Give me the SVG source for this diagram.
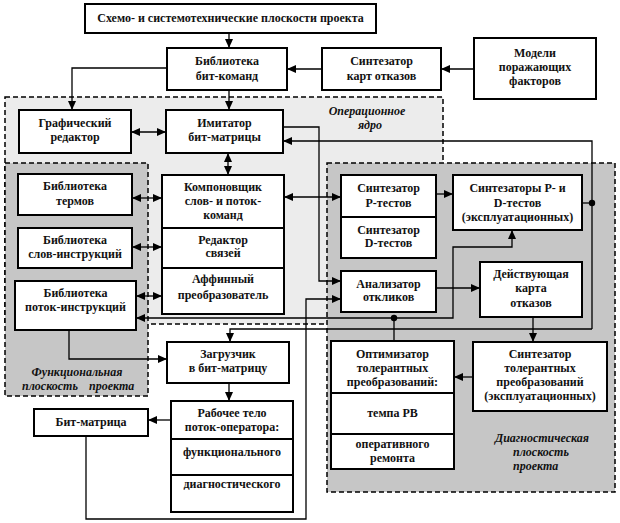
<svg xmlns="http://www.w3.org/2000/svg" width="620" height="523" viewBox="0 0 620 523">
<style>
.box{fill:#fff;stroke:#000;stroke-width:2}
.div{stroke:#000;stroke-width:2}
.reg{stroke:#000;stroke-width:1.5;stroke-dasharray:5,3}
.t{font-family:"Liberation Serif","Times New Roman",serif;font-weight:bold;font-size:12px;text-anchor:middle;fill:#111}
.it{font-family:"Liberation Serif","Times New Roman",serif;font-weight:bold;font-style:italic;font-size:12px;fill:#111}
.c{fill:none;stroke:#000;stroke-width:1.3}
.a{marker-end:url(#ah)}
.d{marker-start:url(#ah);marker-end:url(#ah)}
</style>
<defs>
<marker id="ah" markerUnits="userSpaceOnUse" markerWidth="9" markerHeight="8" refX="9" refY="4" orient="auto-start-reverse"><path d="M0,0 L9,4 L0,8 z" fill="#000"/></marker>
</defs>
<rect width="620" height="523" fill="#fff"/>
<g id="regions">
<rect x="5" y="97" width="438" height="227" fill="#ececec" class="reg"/>
<rect x="5" y="163" width="143" height="233" fill="#c6c6c6" class="reg"/>
<rect x="327" y="163" width="288" height="329" fill="#c6c6c6" class="reg"/>
<text class="it" x="367" y="115" text-anchor="middle">Операционное</text>
<text class="it" x="370" y="129" text-anchor="middle">ядро</text>
<text class="it" x="77" y="376" text-anchor="middle">Функциональная</text>
<text class="it" x="22" y="390">плоскость</text>
<text class="it" x="89" y="390">проекта</text>
<text class="it" x="495" y="442">Диагностическая</text>
<text class="it" x="513" y="456">плоскость</text>
<text class="it" x="513" y="470">проекта</text>
</g>
<g id="connectors">
<path class="c a" d="M229,33 V48"/>
<path class="c a" d="M322,69 H287"/>
<path class="c a" d="M474,69 H441"/>
<path class="c a" d="M167,68 H72 V110"/>
<path class="c a" d="M229,90 V110"/>
<path class="c d" d="M131,132 H166"/>
<path class="c d" d="M228,153 V175"/>
<path class="c d" d="M132,198 H162"/>
<path class="c d" d="M132,247 H162"/>
<path class="c d" d="M136,296 H162"/>
<path class="c d" d="M284,197 H341"/>
<path class="c a" d="M283,127 H319 V281 H341"/>
<path class="c" d="M582,203 H592"/>
<path class="c a" d="M592,329 V141 H283"/>
<path class="c a" d="M592,329 H230 V342"/>
<circle cx="592" cy="203" r="3.2" fill="#000"/>
<path class="c a" d="M436,194 H453"/>
<path class="c a" d="M436,288 H480"/>
<path class="c a" d="M533,317 V342"/>
<path class="c a" d="M473,377 H454"/>
<path class="c" d="M394,341 V318"/>
<path class="c a" d="M394,318 H136"/>
<path class="c a" d="M394,318 H453 V247 H512 V230"/>
<circle cx="394" cy="318" r="3.2" fill="#000"/>
<path class="c a" d="M69,330 V359 H167"/>
<path class="c a" d="M229,383 V401"/>
<path class="c a" d="M171,420 H148"/>
<path class="c a" d="M86,436 V519 H306 V299 H341"/>
</g>
<g id="n_scheme"><rect class="box" x="85" y="4" width="291" height="29"/><text class="t" x="230.5" y="22">Схемо- и системотехнические плоскости проекта</text></g>
<g id="n_bitlib"><rect class="box" x="167" y="48" width="120" height="42"/><text class="t" x="227" y="65">Библиотека</text><text class="t" x="227" y="80">бит-команд</text></g>
<g id="n_mapsynth"><rect class="box" x="322" y="48" width="119" height="42"/><text class="t" x="381.5" y="65">Синтезатор</text><text class="t" x="381.5" y="80">карт отказов</text></g>
<g id="n_models"><rect class="box" x="474" y="38" width="122" height="61"/><text class="t" x="535" y="57">Модели</text><text class="t" x="535" y="71">поражающих</text><text class="t" x="535" y="85">факторов</text></g>
<g id="n_graph"><rect class="box" x="19" y="110" width="112" height="43"/><text class="t" x="75" y="127">Графический</text><text class="t" x="75" y="141">редактор</text></g>
<g id="n_imit"><rect class="box" x="166" y="110" width="117" height="43"/><text class="t" x="224.5" y="127">Имитатор</text><text class="t" x="224.5" y="141">бит-матрицы</text></g>
<g id="n_termlib"><rect class="box" x="18" y="174" width="114" height="41"/><text class="t" x="75" y="190">Библиотека</text><text class="t" x="75" y="205">термов</text></g>
<g id="n_wordlib"><rect class="box" x="18" y="228" width="114" height="40"/><text class="t" x="75" y="244">Библиотека</text><text class="t" x="75" y="258">слов-инструкций</text></g>
<g id="n_flowlib"><rect class="box" x="15" y="281" width="121" height="49"/><text class="t" x="75.5" y="297">Библиотека</text><text class="t" x="75.5" y="311">поток-инструкций</text></g>
<g id="n_linker"><rect class="box" x="162" y="175" width="122" height="139"/><line class="div" x1="162" y1="228" x2="284" y2="228"/><line class="div" x1="162" y1="268" x2="284" y2="268"/>
<text class="t" x="223" y="191">Компоновщик</text><text class="t" x="223" y="205">слов- и поток-</text><text class="t" x="223" y="219">команд</text>
<text class="t" x="223" y="244">Редактор</text><text class="t" x="223" y="257">связей</text>
<text class="t" x="223" y="283">Аффинный</text><text class="t" x="223" y="299">преобразователь</text></g>
<g id="n_ptest"><rect class="box" x="341" y="175" width="95" height="83"/><line class="div" x1="341" y1="217" x2="436" y2="217"/>
<text class="t" x="388.5" y="192">Синтезатор</text><text class="t" x="388.5" y="207">P-тестов</text>
<text class="t" x="388.5" y="234">Синтезатор</text><text class="t" x="388.5" y="247">D-тестов</text></g>
<g id="n_pdsynth"><rect class="box" x="453" y="175" width="129" height="55"/><text class="t" x="517.5" y="192">Синтезаторы P- и</text><text class="t" x="517.5" y="207">D-тестов</text><text class="t" x="517.5" y="221">(эксплуатационных)</text></g>
<g id="n_analyzer"><rect class="box" x="341" y="271" width="95" height="41"/><text class="t" x="388.5" y="288">Анализатор</text><text class="t" x="388.5" y="301">откликов</text></g>
<g id="n_faultmap"><rect class="box" x="480" y="262" width="102" height="55"/><text class="t" x="531" y="278">Действующая</text><text class="t" x="531" y="292">карта</text><text class="t" x="531" y="307">отказов</text></g>
<g id="n_optim"><rect class="box" x="331" y="341" width="123" height="128"/><line class="div" x1="331" y1="393" x2="454" y2="393"/><line class="div" x1="331" y1="434" x2="454" y2="434"/>
<text class="t" x="392.5" y="358">Оптимизатор</text><text class="t" x="392.5" y="372">толерантных</text><text class="t" x="392.5" y="386">преобразований:</text>
<text class="t" x="392.5" y="417">темпа РВ</text>
<text class="t" x="392.5" y="448">оперативного</text><text class="t" x="392.5" y="462">ремонта</text></g>
<g id="n_tolsynth"><rect class="box" x="473" y="342" width="134" height="69"/><text class="t" x="540" y="358">Синтезатор</text><text class="t" x="540" y="372">толерантных</text><text class="t" x="540" y="386">преобразований</text><text class="t" x="540" y="400">(эксплуатационных)</text></g>
<g id="n_loader"><rect class="box" x="167" y="342" width="122" height="41"/><text class="t" x="228" y="358">Загрузчик</text><text class="t" x="228" y="372">в бит-матрицу</text></g>
<g id="n_body"><rect class="box" x="171" y="401" width="122" height="111"/><line class="div" x1="171" y1="439" x2="293" y2="439"/><line class="div" x1="171" y1="475" x2="293" y2="475"/>
<text class="t" x="232" y="417">Рабочее тело</text><text class="t" x="232" y="431">поток-оператора:</text>
<text class="t" x="232" y="456">функционального</text>
<text class="t" x="232" y="488">диагностического</text></g>
<g id="n_bitmatrix"><rect class="box" x="34" y="409" width="114" height="27"/><text class="t" x="91" y="426">Бит-матрица</text></g>
</svg>
